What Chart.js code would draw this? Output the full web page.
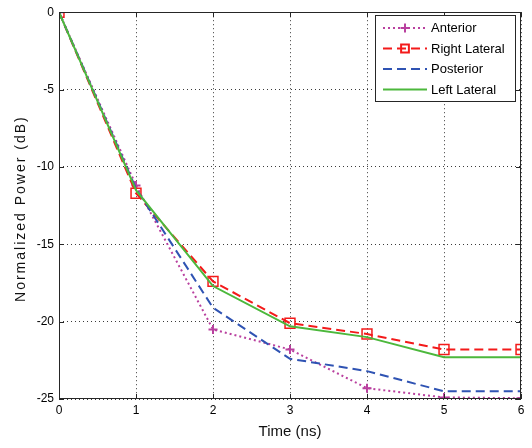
<!DOCTYPE html>
<html>
<head>
<meta charset="utf-8">
<script src="https://cdn.jsdelivr.net/npm/chart.js@4.4.0/dist/chart.umd.min.js"></script>
<style>
  html, body { margin: 0; padding: 0; background: #fff; }
  #wrap { width: 532px; height: 448px; }
</style>
</head>
<body>
<div id="wrap"><canvas id="myChart" width="532" height="448"></canvas></div>
<script>
// values
const times = [0, 1, 2, 3, 4, 5, 6];
const anterior = [0, -11.2, -20.5, -21.8, -24.3, -24.9, -24.95];
const rightLateral = [0, -11.7, -17.4, -20.1, -20.8, -21.8, -21.8];
const posterior = [0, -11.4, -19.1, -22.4, -23.2, -24.5, -24.5];
const leftLateral = [0, -11.5, -17.7, -20.3, -21.0, -22.3, -22.3];
const yTicks = [0, -5, -10, -15, -20, -25];
const yTitle = 'Normalized Power (dB)';

const FONT = '"Liberation Sans", Arial, Helvetica, sans-serif';
Chart.defaults.font.family = FONT;
Chart.defaults.color = '#000';

function points(values) {
  return times.map(function(t, i) { return { x: t, y: values[i] }; });
}

const data = {
  datasets: [
    {
      label: 'Anterior',
      data: points(anterior),
      borderColor: '#b9409f',
      backgroundColor: '#b9409f',
      borderWidth: 2,
      borderDash: [2, 3],
      pointStyle: 'cross',
      pointRadius: 4.5,
      pointBorderWidth: 2,
      order: 4
    },
    {
      label: 'Right Lateral',
      data: points(rightLateral),
      borderColor: '#f31a1a',
      backgroundColor: 'transparent',
      borderWidth: 2,
      borderDash: [9, 5],
      pointStyle: 'rect',
      pointRadius: 7,
      pointBorderWidth: 1.5,
      order: 3
    },
    {
      label: 'Posterior',
      data: points(posterior),
      borderColor: '#2f53b3',
      backgroundColor: '#2f53b3',
      borderWidth: 2,
      borderDash: [9, 5],
      pointRadius: 0,
      order: 2
    },
    {
      label: 'Left Lateral',
      data: points(leftLateral),
      borderColor: '#4cb83c',
      backgroundColor: '#4cb83c',
      borderWidth: 2,
      pointRadius: 0,
      order: 1
    }
  ]
};

// MATLAB style box with inward ticks, plus the spaced-out y title
const frame = {
  id: 'frame',
  afterDatasetsDraw: function(chart) {
    const ctx = chart.ctx;
    const a = chart.chartArea;
    const xs = chart.scales.x, ys = chart.scales.y;
    ctx.save();
    ctx.strokeStyle = '#262626';
    ctx.lineWidth = 1;
    ctx.strokeRect(Math.round(a.left) + 0.5, Math.round(a.top) + 0.5,
      Math.round(a.right - a.left) - 1, Math.round(a.bottom - a.top) - 1);
    ctx.beginPath();
    times.forEach(function(t) {
      const px = Math.round(xs.getPixelForValue(t)) + 0.5;
      ctx.moveTo(px, a.bottom); ctx.lineTo(px, a.bottom - 5);
      ctx.moveTo(px, a.top); ctx.lineTo(px, a.top + 5);
    });
    yTicks.forEach(function(v) {
      const py = Math.round(ys.getPixelForValue(v)) + 0.5;
      ctx.moveTo(a.left, py); ctx.lineTo(a.left + 5, py);
      ctx.moveTo(a.right, py); ctx.lineTo(a.right - 5, py);
    });
    ctx.stroke();

    // y axis title
    ctx.translate(21, (ys.top + ys.bottom) / 2 + 3);
    ctx.rotate(-Math.PI / 2);
    ctx.font = '14px ' + FONT;
    ctx.letterSpacing = '2px';
    ctx.fillStyle = '#111';
    ctx.textAlign = 'center';
    ctx.textBaseline = 'middle';
    ctx.fillText(yTitle, 0, 0);
    ctx.restore();
  }
};

// boxed legend inside the plot, top right
const boxLegend = {
  id: 'boxLegend',
  afterDraw: function(chart) {
    const ctx = chart.ctx;
    const x0 = 375, y0 = 15, w = 141, h = 87;
    ctx.save();
    ctx.fillStyle = '#fff';
    ctx.fillRect(x0, y0, w, h);
    ctx.strokeStyle = '#262626';
    ctx.lineWidth = 1;
    ctx.strokeRect(x0 + 0.5, y0 + 0.5, w - 1, h - 1);
    chart.data.datasets.forEach(function(ds, i) {
      const y = y0 + 13 + i * 20.5;
      ctx.save();
      ctx.strokeStyle = ds.borderColor;
      ctx.lineWidth = ds.borderWidth;
      ctx.setLineDash(ds.borderDash || []);
      ctx.beginPath();
      ctx.moveTo(x0 + 8, y);
      ctx.lineTo(x0 + 52, y);
      ctx.stroke();
      ctx.setLineDash([]);
      if (ds.pointRadius > 0) {
        ctx.fillStyle = ds.backgroundColor;
        Chart.helpers.drawPoint(ctx, {
          pointStyle: ds.pointStyle,
          radius: ds.pointStyle === 'rect' ? 5.5 : 4.5,
          borderWidth: ds.pointBorderWidth,
          rotation: 0
        }, x0 + 30, y);
      }
      ctx.restore();
      ctx.fillStyle = '#000';
      ctx.font = '13px ' + FONT;
      ctx.textBaseline = 'middle';
      ctx.textAlign = 'left';
      ctx.fillText(ds.label, x0 + 56, y + 0.5);
    });
    ctx.restore();
  }
};

const options = {
  responsive: false,
  animation: false,
  devicePixelRatio: 1,
  layout: { padding: { top: 8, right: 11, left: 0, bottom: 0 } },
  plugins: {
    legend: { display: false },
    tooltip: { enabled: false }
  },
  scales: {
    x: {
      type: 'linear',
      min: 0,
      max: 6,
      afterFit: function(scale) { scale.height = 49; },
      ticks: { stepSize: 1, padding: 4, font: { size: 12 }, color: '#000' },
      grid: { drawTicks: false, color: '#3a3a3a', lineWidth: 1 },
      border: { display: false, dash: [1, 3] },
      title: { display: true, text: 'Time (ns)', font: { size: 15 }, padding: { top: 0, bottom: 7 }, color: '#111' }
    },
    y: {
      type: 'linear',
      min: -25,
      max: 0,
      afterFit: function(scale) { scale.width = 59; },
      ticks: { stepSize: 5, padding: 5, font: { size: 12 }, color: '#000' },
      grid: { drawTicks: false, color: '#3a3a3a', lineWidth: 1 },
      border: { display: false, dash: [1, 3] },
      title: { display: false }
    }
  }
};

const ctx = document.getElementById('myChart').getContext('2d');
const myChart = new Chart(ctx, {
  type: 'line',
  data: data,
  options: options,
  plugins: [frame, boxLegend]
});
</script>
</body>
</html>
